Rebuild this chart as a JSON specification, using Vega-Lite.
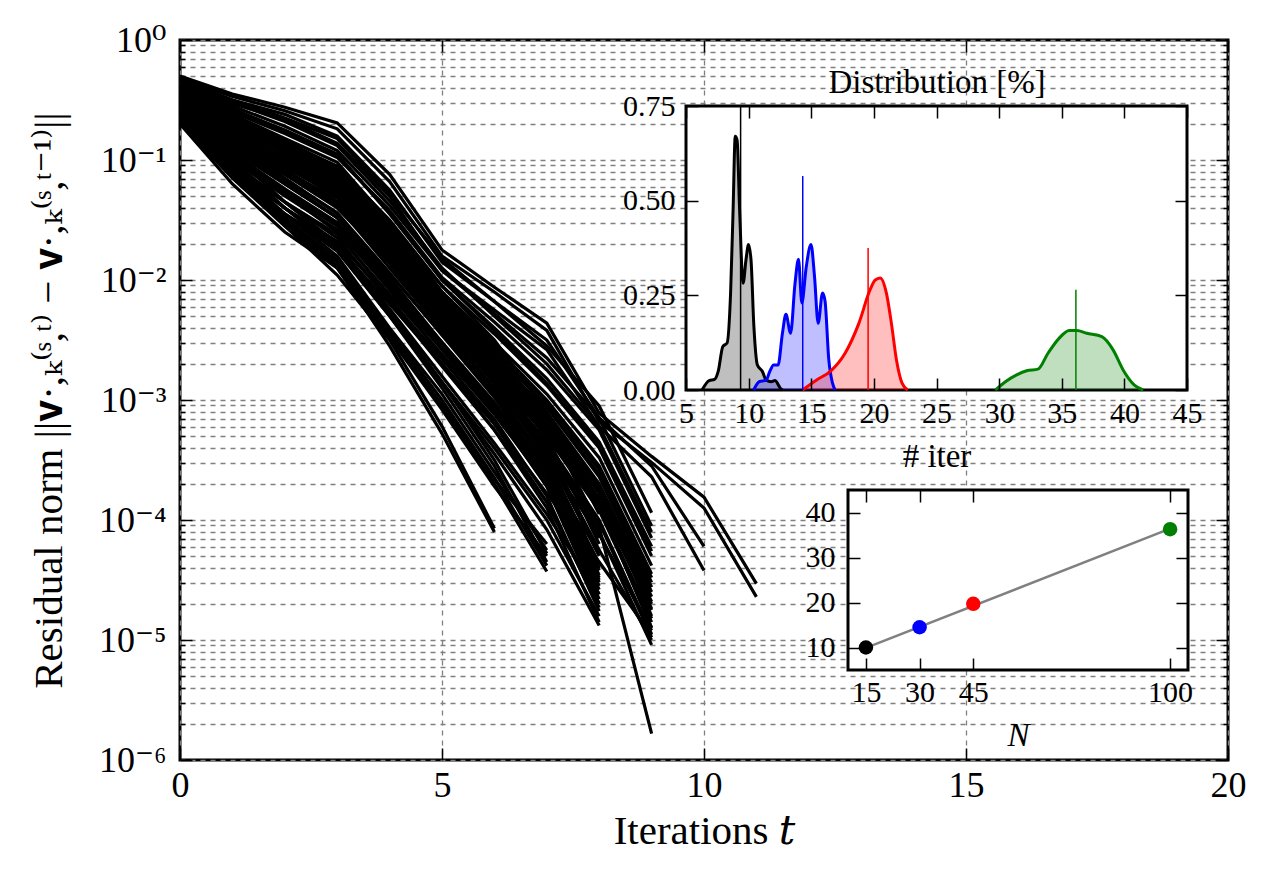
{
"$schema": "https://vega.github.io/schema/vega-lite/v6.json",
"width": 1048, "height": 720,
"autosize": {"type": "none"},
"padding": {"left": 180, "top": 40, "right": 40, "bottom": 116},
"background": "white",
"config": {
  "font": "Liberation Serif, DejaVu Serif, serif",
  "view": {"stroke": "black", "strokeWidth": 3},
  "axis": {"labelFont": "Liberation Serif, DejaVu Serif, serif", "titleFont": "Liberation Serif, DejaVu Serif, serif", "labelColor": "black", "titleColor": "black", "titleFontWeight": "normal", "tickColor": "black", "tickWidth": 1.5, "domain": false, "grid": false, "labelFlush": false, "labelOverlap": false, "labelBound": false}
},
"datasets": {
  "runs": [
    {"r":1,"t":0,"v":0.501},{"r":1,"t":1,"v":0.355},{"r":1,"t":2,"v":0.275},{"r":1,"t":3,"v":0.204},{"r":1,"t":4,"v":0.0759},{"r":1,"t":5,"v":0.0178},{"r":1,"t":6,"v":0.00871},{"r":1,"t":7,"v":0.00437},{"r":1,"t":8,"v":7.76e-4},{"r":1,"t":9,"v":3.39e-4},{"r":1,"t":10,"v":1.55e-4},{"r":1,"t":11,"v":2.95e-5},
    {"r":2,"t":0,"v":0.479},{"r":2,"t":1,"v":0.339},{"r":2,"t":2,"v":0.257},{"r":2,"t":3,"v":0.182},{"r":2,"t":4,"v":0.0661},{"r":2,"t":5,"v":0.0158},{"r":2,"t":6,"v":0.00794},{"r":2,"t":7,"v":0.0038},{"r":2,"t":8,"v":6.61e-4},{"r":2,"t":9,"v":3.02e-4},{"r":2,"t":10,"v":1.26e-4},{"r":2,"t":11,"v":2.29e-5},
    {"r":3,"t":0,"v":0.447},{"r":3,"t":1,"v":0.316},{"r":3,"t":2,"v":0.24},{"r":3,"t":3,"v":0.158},{"r":3,"t":4,"v":0.0562},{"r":3,"t":5,"v":0.0141},{"r":3,"t":6,"v":0.00661},{"r":3,"t":7,"v":0.00316},{"r":3,"t":8,"v":7.08e-4},{"r":3,"t":9,"v":2.82e-4},{"r":3,"t":10,"v":6.03e-5},
    {"r":4,"t":0,"v":0.417},{"r":4,"t":1,"v":0.295},{"r":4,"t":2,"v":0.219},{"r":4,"t":3,"v":0.138},{"r":4,"t":4,"v":0.0501},{"r":4,"t":5,"v":0.012},{"r":4,"t":6,"v":0.00562},{"r":4,"t":7,"v":0.00263},{"r":4,"t":8,"v":6.03e-4},{"r":4,"t":9,"v":2.29e-4},{"r":4,"t":10,"v":3.8e-5},
    {"r":5,"t":0,"v":0.2},{"r":5,"t":1,"v":0.0631},{"r":5,"t":2,"v":0.0251},{"r":5,"t":3,"v":0.0126},{"r":5,"t":4,"v":0.00282},{"r":5,"t":5,"v":5.25e-4},{"r":5,"t":6,"v":7.94e-5},
    {"r":6,"t":0,"v":0.219},{"r":6,"t":1,"v":0.0759},{"r":6,"t":2,"v":0.0282},{"r":6,"t":3,"v":0.011},{"r":6,"t":4,"v":0.00316},{"r":6,"t":5,"v":6.03e-4},{"r":6,"t":6,"v":8.51e-5},
    {"r":7,"t":0,"v":0.251},{"r":7,"t":1,"v":0.0891},{"r":7,"t":2,"v":0.0355},{"r":7,"t":3,"v":0.0158},{"r":7,"t":4,"v":0.00398},{"r":7,"t":5,"v":0.00112},{"r":7,"t":6,"v":2.51e-4},{"r":7,"t":7,"v":5.62e-5},
    {"r":8,"t":0,"v":0.24},{"r":8,"t":1,"v":0.0794},{"r":8,"t":2,"v":0.0316},{"r":8,"t":3,"v":0.0141},{"r":8,"t":4,"v":0.00355},{"r":8,"t":5,"v":8.91e-4},{"r":8,"t":6,"v":2e-4},{"r":8,"t":7,"v":3.72e-5},
    {"r":9,"t":0,"v":0.282},{"r":9,"t":1,"v":0.112},{"r":9,"t":2,"v":0.0447},{"r":9,"t":3,"v":0.02},{"r":9,"t":4,"v":0.00562},{"r":9,"t":5,"v":0.00141},{"r":9,"t":6,"v":3.16e-4},{"r":9,"t":7,"v":5.25e-5},
    {"r":10,"t":0,"v":0.263},{"r":10,"t":1,"v":0.1},{"r":10,"t":2,"v":0.0398},{"r":10,"t":3,"v":0.0178},{"r":10,"t":4,"v":0.00501},{"r":10,"t":5,"v":0.00126},{"r":10,"t":6,"v":2.82e-4},{"r":10,"t":7,"v":4.47e-5},
    {"r":11,"t":0,"v":0.398},{"r":11,"t":1,"v":0.24},{"r":11,"t":2,"v":0.141},{"r":11,"t":3,"v":0.0794},{"r":11,"t":4,"v":0.0282},{"r":11,"t":5,"v":0.00891},{"r":11,"t":6,"v":0.00316},{"r":11,"t":7,"v":7.94e-4},{"r":11,"t":8,"v":1.12e-4},
    {"r":12,"t":0,"v":0.355},{"r":12,"t":1,"v":0.2},{"r":12,"t":2,"v":0.112},{"r":12,"t":3,"v":0.0631},{"r":12,"t":4,"v":0.0224},{"r":12,"t":5,"v":0.00708},{"r":12,"t":6,"v":0.0024},{"r":12,"t":7,"v":6.31e-4},{"r":12,"t":8,"v":8.91e-5},
    {"r":13,"t":0,"v":0.316},{"r":13,"t":1,"v":0.166},{"r":13,"t":2,"v":0.0891},{"r":13,"t":3,"v":0.0501},{"r":13,"t":4,"v":0.0178},{"r":13,"t":5,"v":0.00562},{"r":13,"t":6,"v":0.00178},{"r":13,"t":7,"v":4.79e-4},{"r":13,"t":8,"v":7.08e-5},
    {"r":14,"t":0,"v":0.38},{"r":14,"t":1,"v":0.219},{"r":14,"t":2,"v":0.12},{"r":14,"t":3,"v":0.0661},{"r":14,"t":4,"v":0.02},{"r":14,"t":5,"v":0.00631},{"r":14,"t":6,"v":0.002},{"r":14,"t":7,"v":5.01e-4},{"r":14,"t":8,"v":6.31e-5},
    {"r":15,"t":0,"v":0.282},{"r":15,"t":1,"v":0.141},{"r":15,"t":2,"v":0.0759},{"r":15,"t":3,"v":0.0398},{"r":15,"t":4,"v":0.0141},{"r":15,"t":5,"v":0.00447},{"r":15,"t":6,"v":0.00141},{"r":15,"t":7,"v":3.8e-4},{"r":15,"t":8,"v":5.62e-5},
    {"r":16,"t":0,"v":0.331},{"r":16,"t":1,"v":0.178},{"r":16,"t":2,"v":0.1},{"r":16,"t":3,"v":0.0525},{"r":16,"t":4,"v":0.0158},{"r":16,"t":5,"v":0.00479},{"r":16,"t":6,"v":0.00151},{"r":16,"t":7,"v":3.55e-4},{"r":16,"t":8,"v":5.01e-5},
    {"r":17,"t":0,"v":0.251},{"r":17,"t":1,"v":0.12},{"r":17,"t":2,"v":0.0631},{"r":17,"t":3,"v":0.0331},{"r":17,"t":4,"v":0.0112},{"r":17,"t":5,"v":0.00355},{"r":17,"t":6,"v":0.00112},{"r":17,"t":7,"v":3.02e-4},{"r":17,"t":8,"v":4.37e-5},
    {"r":18,"t":0,"v":0.302},{"r":18,"t":1,"v":0.151},{"r":18,"t":2,"v":0.0794},{"r":18,"t":3,"v":0.0417},{"r":18,"t":4,"v":0.0126},{"r":18,"t":5,"v":0.0038},{"r":18,"t":6,"v":0.0012},{"r":18,"t":7,"v":2.82e-4},{"r":18,"t":8,"v":3.8e-5},
    {"r":19,"t":0,"v":0.24},{"r":19,"t":1,"v":0.105},{"r":19,"t":2,"v":0.0525},{"r":19,"t":3,"v":0.0282},{"r":19,"t":4,"v":0.00891},{"r":19,"t":5,"v":0.00282},{"r":19,"t":6,"v":8.91e-4},{"r":19,"t":7,"v":2.4e-4},{"r":19,"t":8,"v":3.31e-5},
    {"r":20,"t":0,"v":0.347},{"r":20,"t":1,"v":0.191},{"r":20,"t":2,"v":0.1},{"r":20,"t":3,"v":0.0501},{"r":20,"t":4,"v":0.0141},{"r":20,"t":5,"v":0.00398},{"r":20,"t":6,"v":0.00112},{"r":20,"t":7,"v":2.51e-4},{"r":20,"t":8,"v":2.82e-5},
    {"r":21,"t":0,"v":0.224},{"r":21,"t":1,"v":0.0891},{"r":21,"t":2,"v":0.0447},{"r":21,"t":3,"v":0.024},{"r":21,"t":4,"v":0.00759},{"r":21,"t":5,"v":0.0024},{"r":21,"t":6,"v":7.59e-4},{"r":21,"t":7,"v":2e-4},{"r":21,"t":8,"v":2.4e-5},
    {"r":22,"t":0,"v":0.269},{"r":22,"t":1,"v":0.126},{"r":22,"t":2,"v":0.0661},{"r":22,"t":3,"v":0.0331},{"r":22,"t":4,"v":0.01},{"r":22,"t":5,"v":0.00282},{"r":22,"t":6,"v":8.32e-4},{"r":22,"t":7,"v":1.91e-4},{"r":22,"t":8,"v":2e-5},
    {"r":23,"t":0,"v":0.209},{"r":23,"t":1,"v":0.0759},{"r":23,"t":2,"v":0.0355},{"r":23,"t":3,"v":0.0191},{"r":23,"t":4,"v":0.00631},{"r":23,"t":5,"v":0.002},{"r":23,"t":6,"v":6.31e-4},{"r":23,"t":7,"v":1.41e-4},{"r":23,"t":8,"v":1.86e-5},
    {"r":24,"t":0,"v":0.234},{"r":24,"t":1,"v":0.0955},{"r":24,"t":2,"v":0.0447},{"r":24,"t":3,"v":0.0224},{"r":24,"t":4,"v":0.00661},{"r":24,"t":5,"v":0.00191},{"r":24,"t":6,"v":5.62e-4},{"r":24,"t":7,"v":1.26e-4},{"r":24,"t":8,"v":1.41e-5},
    {"r":25,"t":0,"v":0.468},{"r":25,"t":1,"v":0.316},{"r":25,"t":2,"v":0.224},{"r":25,"t":3,"v":0.151},{"r":25,"t":4,"v":0.0525},{"r":25,"t":5,"v":0.0151},{"r":25,"t":6,"v":0.00661},{"r":25,"t":7,"v":0.00282},{"r":25,"t":8,"v":8.91e-4},{"r":25,"t":9,"v":1.15e-4},
    {"r":26,"t":0,"v":0.437},{"r":26,"t":1,"v":0.282},{"r":26,"t":2,"v":0.191},{"r":26,"t":3,"v":0.12},{"r":26,"t":4,"v":0.0417},{"r":26,"t":5,"v":0.012},{"r":26,"t":6,"v":0.00525},{"r":26,"t":7,"v":0.00224},{"r":26,"t":8,"v":7.08e-4},{"r":26,"t":9,"v":8.91e-5},
    {"r":27,"t":0,"v":0.398},{"r":27,"t":1,"v":0.251},{"r":27,"t":2,"v":0.166},{"r":27,"t":3,"v":0.105},{"r":27,"t":4,"v":0.038},{"r":27,"t":5,"v":0.0105},{"r":27,"t":6,"v":0.00447},{"r":27,"t":7,"v":0.00178},{"r":27,"t":8,"v":5.62e-4},{"r":27,"t":9,"v":7.08e-5},
    {"r":28,"t":0,"v":0.417},{"r":28,"t":1,"v":0.263},{"r":28,"t":2,"v":0.178},{"r":28,"t":3,"v":0.112},{"r":28,"t":4,"v":0.0355},{"r":28,"t":5,"v":0.01},{"r":28,"t":6,"v":0.00398},{"r":28,"t":7,"v":0.00151},{"r":28,"t":8,"v":4.47e-4},{"r":28,"t":9,"v":6.03e-5},
    {"r":29,"t":0,"v":0.363},{"r":29,"t":1,"v":0.224},{"r":29,"t":2,"v":0.141},{"r":29,"t":3,"v":0.0891},{"r":29,"t":4,"v":0.0316},{"r":29,"t":5,"v":0.00891},{"r":29,"t":6,"v":0.00355},{"r":29,"t":7,"v":0.00132},{"r":29,"t":8,"v":3.98e-4},{"r":29,"t":9,"v":5.01e-5},
    {"r":30,"t":0,"v":0.38},{"r":30,"t":1,"v":0.24},{"r":30,"t":2,"v":0.151},{"r":30,"t":3,"v":0.0955},{"r":30,"t":4,"v":0.0302},{"r":30,"t":5,"v":0.00794},{"r":30,"t":6,"v":0.00302},{"r":30,"t":7,"v":0.00112},{"r":30,"t":8,"v":3.31e-4},{"r":30,"t":9,"v":4.17e-5},
    {"r":31,"t":0,"v":0.339},{"r":31,"t":1,"v":0.2},{"r":31,"t":2,"v":0.126},{"r":31,"t":3,"v":0.0794},{"r":31,"t":4,"v":0.0263},{"r":31,"t":5,"v":0.00759},{"r":31,"t":6,"v":0.00282},{"r":31,"t":7,"v":0.001},{"r":31,"t":8,"v":2.82e-4},{"r":31,"t":9,"v":3.55e-5},
    {"r":32,"t":0,"v":0.316},{"r":32,"t":1,"v":0.182},{"r":32,"t":2,"v":0.112},{"r":32,"t":3,"v":0.0708},{"r":32,"t":4,"v":0.024},{"r":32,"t":5,"v":0.00661},{"r":32,"t":6,"v":0.00251},{"r":32,"t":7,"v":8.91e-4},{"r":32,"t":8,"v":2.4e-4},{"r":32,"t":9,"v":3.02e-5},
    {"r":33,"t":0,"v":0.355},{"r":33,"t":1,"v":0.209},{"r":33,"t":2,"v":0.126},{"r":33,"t":3,"v":0.0759},{"r":33,"t":4,"v":0.0251},{"r":33,"t":5,"v":0.00708},{"r":33,"t":6,"v":0.0024},{"r":33,"t":7,"v":7.94e-4},{"r":33,"t":8,"v":2e-4},{"r":33,"t":9,"v":2.51e-5},
    {"r":34,"t":0,"v":0.295},{"r":34,"t":1,"v":0.166},{"r":34,"t":2,"v":0.1},{"r":34,"t":3,"v":0.0603},{"r":34,"t":4,"v":0.02},{"r":34,"t":5,"v":0.00562},{"r":34,"t":6,"v":0.002},{"r":34,"t":7,"v":6.61e-4},{"r":34,"t":8,"v":1.66e-4},{"r":34,"t":9,"v":2.09e-5},
    {"r":35,"t":0,"v":0.324},{"r":35,"t":1,"v":0.191},{"r":35,"t":2,"v":0.112},{"r":35,"t":3,"v":0.0661},{"r":35,"t":4,"v":0.0209},{"r":35,"t":5,"v":0.00603},{"r":35,"t":6,"v":0.00191},{"r":35,"t":7,"v":6.03e-4},{"r":35,"t":8,"v":1.41e-4},{"r":35,"t":9,"v":1.78e-5},
    {"r":36,"t":0,"v":0.275},{"r":36,"t":1,"v":0.151},{"r":36,"t":2,"v":0.0891},{"r":36,"t":3,"v":0.0525},{"r":36,"t":4,"v":0.0166},{"r":36,"t":5,"v":0.00479},{"r":36,"t":6,"v":0.00158},{"r":36,"t":7,"v":5.01e-4},{"r":36,"t":8,"v":1.2e-4},{"r":36,"t":9,"v":1.41e-5},
    {"r":37,"t":0,"v":0.302},{"r":37,"t":1,"v":0.166},{"r":37,"t":2,"v":0.0955},{"r":37,"t":3,"v":0.0562},{"r":37,"t":4,"v":0.0178},{"r":37,"t":5,"v":0.00501},{"r":37,"t":6,"v":0.00151},{"r":37,"t":7,"v":4.47e-4},{"r":37,"t":8,"v":1e-4},{"r":37,"t":9,"v":1.12e-5},
    {"r":38,"t":0,"v":0.263},{"r":38,"t":1,"v":0.132},{"r":38,"t":2,"v":0.0759},{"r":38,"t":3,"v":0.0447},{"r":38,"t":4,"v":0.0141},{"r":38,"t":5,"v":0.00398},{"r":38,"t":6,"v":0.00126},{"r":38,"t":7,"v":3.8e-4},{"r":38,"t":8,"v":7.94e-5},{"r":38,"t":9,"v":9.12e-6},
    {"r":39,"t":0,"v":0.288},{"r":39,"t":1,"v":0.141},{"r":39,"t":2,"v":0.0794},{"r":39,"t":3,"v":0.0479},{"r":39,"t":4,"v":0.0151},{"r":39,"t":5,"v":0.00447},{"r":39,"t":6,"v":0.00141},{"r":39,"t":7,"v":3.98e-4},{"r":39,"t":8,"v":8.71e-5},{"r":39,"t":9,"v":1.66e-6},
    {"r":40,"t":0,"v":0.372},{"r":40,"t":1,"v":0.219},{"r":40,"t":2,"v":0.132},{"r":40,"t":3,"v":0.0794},{"r":40,"t":4,"v":0.0251},{"r":40,"t":5,"v":0.00661},{"r":40,"t":6,"v":0.00219},{"r":40,"t":7,"v":7.08e-4},{"r":40,"t":8,"v":1.78e-4},{"r":40,"t":9,"v":1.58e-5},
    {"r":41,"t":0,"v":0.309},{"r":41,"t":1,"v":0.174},{"r":41,"t":2,"v":0.105},{"r":41,"t":3,"v":0.0631},{"r":41,"t":4,"v":0.0191},{"r":41,"t":5,"v":0.00525},{"r":41,"t":6,"v":0.00166},{"r":41,"t":7,"v":5.25e-4},{"r":41,"t":8,"v":1.32e-4},{"r":41,"t":9,"v":1.26e-5},
    {"r":42,"t":0,"v":0.339},{"r":42,"t":1,"v":0.191},{"r":42,"t":2,"v":0.115},{"r":42,"t":3,"v":0.0692},{"r":42,"t":4,"v":0.0224},{"r":42,"t":5,"v":0.00631},{"r":42,"t":6,"v":0.00209},{"r":42,"t":7,"v":6.31e-4},{"r":42,"t":8,"v":1.51e-4},{"r":42,"t":9,"v":2e-5},
    {"r":43,"t":0,"v":0.288},{"r":43,"t":1,"v":0.151},{"r":43,"t":2,"v":0.0871},{"r":43,"t":3,"v":0.0501},{"r":43,"t":4,"v":0.0158},{"r":43,"t":5,"v":0.00447},{"r":43,"t":6,"v":0.00138},{"r":43,"t":7,"v":4.17e-4},{"r":43,"t":8,"v":9.55e-5},{"r":43,"t":9,"v":1.05e-5},
    {"r":44,"t":0,"v":0.363},{"r":44,"t":1,"v":0.2},{"r":44,"t":2,"v":0.11},{"r":44,"t":3,"v":0.0575},{"r":44,"t":4,"v":0.0174},{"r":44,"t":5,"v":0.00525},{"r":44,"t":6,"v":0.00166},{"r":44,"t":7,"v":4.17e-4},{"r":44,"t":8,"v":5.25e-5},
    {"r":45,"t":0,"v":0.257},{"r":45,"t":1,"v":0.115},{"r":45,"t":2,"v":0.0575},{"r":45,"t":3,"v":0.0302},{"r":45,"t":4,"v":0.00955},{"r":45,"t":5,"v":0.00302},{"r":45,"t":6,"v":9.55e-4},{"r":45,"t":7,"v":2.51e-4},{"r":45,"t":8,"v":3.16e-5},
    {"r":46,"t":0,"v":0.427},{"r":46,"t":1,"v":0.269},{"r":46,"t":2,"v":0.174},{"r":46,"t":3,"v":0.11},{"r":46,"t":4,"v":0.0363},{"r":46,"t":5,"v":0.01},{"r":46,"t":6,"v":0.0038},{"r":46,"t":7,"v":0.00138},{"r":46,"t":8,"v":4.17e-4},{"r":46,"t":9,"v":5.5e-5},
    {"r":47,"t":0,"v":0.389},{"r":47,"t":1,"v":0.234},{"r":47,"t":2,"v":0.145},{"r":47,"t":3,"v":0.0871},{"r":47,"t":4,"v":0.0282},{"r":47,"t":5,"v":0.00794},{"r":47,"t":6,"v":0.00282},{"r":47,"t":7,"v":9.55e-4},{"r":47,"t":8,"v":2.63e-4},{"r":47,"t":9,"v":3.31e-5},
    {"r":48,"t":0,"v":0.331},{"r":48,"t":1,"v":0.195},{"r":48,"t":2,"v":0.117},{"r":48,"t":3,"v":0.0708},{"r":48,"t":4,"v":0.0229},{"r":48,"t":5,"v":0.00631},{"r":48,"t":6,"v":0.00219},{"r":48,"t":7,"v":7.24e-4},{"r":48,"t":8,"v":1.82e-4},{"r":48,"t":9,"v":2.29e-5},
    {"r":49,"t":0,"v":0.282},{"r":49,"t":1,"v":0.158},{"r":49,"t":2,"v":0.0933},{"r":49,"t":3,"v":0.055},{"r":49,"t":4,"v":0.0174},{"r":49,"t":5,"v":0.00501},{"r":49,"t":6,"v":0.00166},{"r":49,"t":7,"v":5.25e-4},{"r":49,"t":8,"v":1.26e-4},{"r":49,"t":9,"v":1.51e-5},
    {"r":50,"t":0,"v":0.316},{"r":50,"t":1,"v":0.174},{"r":50,"t":2,"v":0.0955},{"r":50,"t":3,"v":0.0501},{"r":50,"t":4,"v":0.0151},{"r":50,"t":5,"v":0.00457},{"r":50,"t":6,"v":0.00138},{"r":50,"t":7,"v":3.31e-4},{"r":50,"t":8,"v":3.98e-5},
    {"r":51,"t":0,"v":0.275},{"r":51,"t":1,"v":0.132},{"r":51,"t":2,"v":0.0692},{"r":51,"t":3,"v":0.0363},{"r":51,"t":4,"v":0.0115},{"r":51,"t":5,"v":0.00347},{"r":51,"t":6,"v":0.00105},{"r":51,"t":7,"v":2.63e-4},{"r":51,"t":8,"v":3.02e-5},
    {"r":52,"t":0,"v":0.229},{"r":52,"t":1,"v":0.1},{"r":52,"t":2,"v":0.0501},{"r":52,"t":3,"v":0.0263},{"r":52,"t":4,"v":0.00832},{"r":52,"t":5,"v":0.00263},{"r":52,"t":6,"v":7.94e-4},{"r":52,"t":7,"v":1.91e-4},{"r":52,"t":8,"v":2.19e-5},
    {"r":53,"t":0,"v":0.295},{"r":53,"t":1,"v":0.145},{"r":53,"t":2,"v":0.0794},{"r":53,"t":3,"v":0.0437},{"r":53,"t":4,"v":0.0138},{"r":53,"t":5,"v":0.00417},{"r":53,"t":6,"v":0.00126},{"r":53,"t":7,"v":3.02e-4},{"r":53,"t":8,"v":3.47e-5},
    {"r":54,"t":0,"v":0.457},{"r":54,"t":1,"v":0.302},{"r":54,"t":2,"v":0.209},{"r":54,"t":3,"v":0.132},{"r":54,"t":4,"v":0.0457},{"r":54,"t":5,"v":0.0126},{"r":54,"t":6,"v":0.00501},{"r":54,"t":7,"v":0.002},{"r":54,"t":8,"v":6.03e-4},{"r":54,"t":9,"v":7.94e-5},
    {"r":55,"t":0,"v":0.363},{"r":55,"t":1,"v":0.219},{"r":55,"t":2,"v":0.135},{"r":55,"t":3,"v":0.0832},{"r":55,"t":4,"v":0.0275},{"r":55,"t":5,"v":0.00741},{"r":55,"t":6,"v":0.00263},{"r":55,"t":7,"v":8.71e-4},{"r":55,"t":8,"v":2.29e-4},{"r":55,"t":9,"v":2.75e-5},
    {"r":56,"t":0,"v":0.245},{"r":56,"t":1,"v":0.11},{"r":56,"t":2,"v":0.055},{"r":56,"t":3,"v":0.0288},{"r":56,"t":4,"v":0.00912},{"r":56,"t":5,"v":0.00282},{"r":56,"t":6,"v":8.71e-4},{"r":56,"t":7,"v":2.19e-4},{"r":56,"t":8,"v":2.63e-5},
    {"r":57,"t":0,"v":0.302},{"r":57,"t":1,"v":0.17},{"r":57,"t":2,"v":0.1},{"r":57,"t":3,"v":0.0589},{"r":57,"t":4,"v":0.0191},{"r":57,"t":5,"v":0.00537},{"r":57,"t":6,"v":0.00178},{"r":57,"t":7,"v":5.62e-4},{"r":57,"t":8,"v":1.35e-4},{"r":57,"t":9,"v":1.26e-5},
    {"r":58,"t":0,"v":0.214},{"r":58,"t":1,"v":0.0832},{"r":58,"t":2,"v":0.0398},{"r":58,"t":3,"v":0.0209},{"r":58,"t":4,"v":0.00692},{"r":58,"t":5,"v":0.00219},{"r":58,"t":6,"v":6.92e-4},{"r":58,"t":7,"v":1.58e-4},{"r":58,"t":8,"v":1.74e-5},
    {"r":59,"t":0,"v":0.234},{"r":59,"t":1,"v":0.0832},{"r":59,"t":2,"v":0.0331},{"r":59,"t":3,"v":0.0148},{"r":59,"t":4,"v":0.0038},{"r":59,"t":5,"v":0.001},{"r":59,"t":6,"v":2.24e-4},{"r":59,"t":7,"v":4.17e-5},
    {"r":60,"t":0,"v":0.347},{"r":60,"t":1,"v":0.204},{"r":60,"t":2,"v":0.123},{"r":60,"t":3,"v":0.0741},{"r":60,"t":4,"v":0.024},{"r":60,"t":5,"v":0.00661},{"r":60,"t":6,"v":0.00229},{"r":60,"t":7,"v":7.59e-4},{"r":60,"t":8,"v":1.91e-4},{"r":60,"t":9,"v":1.82e-5},
    {"r":61,"t":0,"v":0.263},{"r":61,"t":1,"v":0.112},{"r":61,"t":2,"v":0.0525},{"r":61,"t":3,"v":0.0251},{"r":61,"t":4,"v":0.00708},{"r":61,"t":5,"v":0.002},{"r":61,"t":6,"v":5.62e-4},{"r":61,"t":7,"v":1.41e-4},{"r":61,"t":8,"v":2e-5},
    {"r":62,"t":0,"v":0.219},{"r":62,"t":1,"v":0.0794},{"r":62,"t":2,"v":0.0355},{"r":62,"t":3,"v":0.0174},{"r":62,"t":4,"v":0.00501},{"r":62,"t":5,"v":0.00141},{"r":62,"t":6,"v":3.98e-4},{"r":62,"t":7,"v":1e-4},{"r":62,"t":8,"v":1.58e-5},
    {"r":63,"t":0,"v":0.24},{"r":63,"t":1,"v":0.0912},{"r":63,"t":2,"v":0.0398},{"r":63,"t":3,"v":0.0191},{"r":63,"t":4,"v":0.00525},{"r":63,"t":5,"v":0.00138},{"r":63,"t":6,"v":3.55e-4},{"r":63,"t":7,"v":8.32e-5},{"r":63,"t":8,"v":1.32e-5},
    {"r":64,"t":0,"v":0.275},{"r":64,"t":1,"v":0.126},{"r":64,"t":2,"v":0.0631},{"r":64,"t":3,"v":0.0331},{"r":64,"t":4,"v":0.01},{"r":64,"t":5,"v":0.00282},{"r":64,"t":6,"v":7.94e-4},{"r":64,"t":7,"v":2.19e-4},{"r":64,"t":8,"v":5.62e-5},{"r":64,"t":9,"v":1e-5},
    {"r":65,"t":0,"v":0.251},{"r":65,"t":1,"v":0.11},{"r":65,"t":2,"v":0.055},{"r":65,"t":3,"v":0.0282},{"r":65,"t":4,"v":0.00832},{"r":65,"t":5,"v":0.00229},{"r":65,"t":6,"v":6.31e-4},{"r":65,"t":7,"v":1.66e-4},{"r":65,"t":8,"v":4.47e-5},{"r":65,"t":9,"v":1.1e-5},
    {"r":66,"t":0,"v":0.204},{"r":66,"t":1,"v":0.0708},{"r":66,"t":2,"v":0.0282},{"r":66,"t":3,"v":0.0126},{"r":66,"t":4,"v":0.00331},{"r":66,"t":5,"v":8.32e-4},{"r":66,"t":6,"v":1.91e-4},{"r":66,"t":7,"v":5.01e-5},
    {"r":67,"t":0,"v":0.288},{"r":67,"t":1,"v":0.138},{"r":67,"t":2,"v":0.0708},{"r":67,"t":3,"v":0.0355},{"r":67,"t":4,"v":0.0105},{"r":67,"t":5,"v":0.00302},{"r":67,"t":6,"v":8.91e-4},{"r":67,"t":7,"v":2.51e-4},{"r":67,"t":8,"v":3.98e-5},
    {"r":68,"t":0,"v":0.316},{"r":68,"t":1,"v":0.158},{"r":68,"t":2,"v":0.0832},{"r":68,"t":3,"v":0.0447},{"r":68,"t":4,"v":0.0138},{"r":68,"t":5,"v":0.0038},{"r":68,"t":6,"v":0.00112},{"r":68,"t":7,"v":3.16e-4},{"r":68,"t":8,"v":7.59e-5},{"r":68,"t":9,"v":1.2e-5},
    {"r":69,"t":0,"v":0.229},{"r":69,"t":1,"v":0.0871},{"r":69,"t":2,"v":0.0398},{"r":69,"t":3,"v":0.02},{"r":69,"t":4,"v":0.00575},{"r":69,"t":5,"v":0.00158},{"r":69,"t":6,"v":4.37e-4},{"r":69,"t":7,"v":1.12e-4},{"r":69,"t":8,"v":2.4e-5},
    {"r":70,"t":0,"v":0.224},{"r":70,"t":1,"v":0.0759},{"r":70,"t":2,"v":0.0302},{"r":70,"t":3,"v":0.0132},{"r":70,"t":4,"v":0.00347},{"r":70,"t":5,"v":9.12e-4},{"r":70,"t":6,"v":2.19e-4},{"r":70,"t":7,"v":6.31e-5}
  ],
  "kde": [
    {"g":"15","it":6.28,"d":0},{"g":"15","it":6.85,"d":0.025},{"g":"15","it":7.28,"d":0.028},{"g":"15","it":7.57,"d":0.049},{"g":"15","it":7.94,"d":0.115},{"g":"15","it":8.28,"d":0.124},{"g":"15","it":8.56,"d":0.256},{"g":"15","it":8.76,"d":0.476},{"g":"15","it":8.93,"d":0.67},{"g":"15","it":9.08,"d":0.66},{"g":"15","it":9.28,"d":0.476},{"g":"15","it":9.56,"d":0.282},{"g":"15","it":9.79,"d":0.344},{"g":"15","it":9.99,"d":0.384},{"g":"15","it":10.19,"d":0.344},{"g":"15","it":10.42,"d":0.168},{"g":"15","it":10.7,"d":0.066},{"g":"15","it":11.1,"d":0.049},{"g":"15","it":11.4,"d":0.026},{"g":"15","it":11.8,"d":0.022},{"g":"15","it":12.1,"d":0.025},{"g":"15","it":12.55,"d":0.004},{"g":"15","it":12.7,"d":0},
    {"g":"30","it":10.4,"d":0},{"g":"30","it":10.85,"d":0.022},{"g":"30","it":11.4,"d":0.026},{"g":"30","it":11.7,"d":0.05},{"g":"30","it":12.0,"d":0.066},{"g":"30","it":12.35,"d":0.066},{"g":"30","it":12.7,"d":0.15},{"g":"30","it":12.98,"d":0.2},{"g":"30","it":13.35,"d":0.15},{"g":"30","it":13.7,"d":0.28},{"g":"30","it":13.98,"d":0.345},{"g":"30","it":14.25,"d":0.23},{"g":"30","it":14.6,"d":0.325},{"g":"30","it":14.98,"d":0.384},{"g":"30","it":15.26,"d":0.3},{"g":"30","it":15.55,"d":0.176},{"g":"30","it":15.9,"d":0.256},{"g":"30","it":16.1,"d":0.235},{"g":"30","it":16.4,"d":0.08},{"g":"30","it":16.7,"d":0.018},{"g":"30","it":16.9,"d":0},
    {"g":"45","it":14.3,"d":0},{"g":"45","it":15.4,"d":0.026},{"g":"45","it":16.55,"d":0.05},{"g":"45","it":17.7,"d":0.097},{"g":"45","it":18.8,"d":0.176},{"g":"45","it":19.7,"d":0.265},{"g":"45","it":20.1,"d":0.29},{"g":"45","it":20.5,"d":0.296},{"g":"45","it":21.0,"d":0.256},{"g":"45","it":21.4,"d":0.176},{"g":"45","it":21.8,"d":0.08},{"g":"45","it":22.25,"d":0.018},{"g":"45","it":22.7,"d":0},
    {"g":"100","it":29.7,"d":0},{"g":"100","it":30.5,"d":0.022},{"g":"100","it":31.4,"d":0.04},{"g":"100","it":32.2,"d":0.051},{"g":"100","it":33.1,"d":0.055},{"g":"100","it":33.9,"d":0.097},{"g":"100","it":34.8,"d":0.137},{"g":"100","it":35.6,"d":0.157},{"g":"100","it":36.2,"d":0.157},{"g":"100","it":37.0,"d":0.15},{"g":"100","it":38.2,"d":0.141},{"g":"100","it":39.1,"d":0.106},{"g":"100","it":39.9,"d":0.053},{"g":"100","it":40.8,"d":0.013},{"g":"100","it":41.5,"d":0}
  ],
  "means": [
    {"g":"15","it":9.36,"h":0.75},{"g":"30","it":14.32,"h":0.565},{"g":"45","it":19.54,"h":0.375},{"g":"100","it":36.13,"h":0.265}
  ],
  "nit": [
    {"g":"15","N":15,"it":10.0},{"g":"30","N":30,"it":14.5},{"g":"45","N":45,"it":19.7},{"g":"100","N":100,"it":36.3}
  ],
  "fit": [
    {"N":15,"fit":9.9},{"N":100,"fit":36.4}
  ]
},
"layer": [
  {
    "layer": [
      {
        "data": {"name": "runs"},
        "mark": {"type": "line", "color": "black", "strokeWidth": 3.2},
        "encoding": {
          "x": {"field": "t", "type": "quantitative", "scale": {"domain": [0, 20], "nice": false},
            "axis": {"orient": "bottom", "values": [0, 5, 10, 15, 20], "format": "d", "tickSize": -12, "labelPadding": 20, "labelFontSize": 36,
              "grid": true, "gridColor": "#808080", "gridDash": [5, 5], "gridWidth": 1.3,
              "title": "Iterations 𝑡", "titleFontSize": 41, "titlePadding": 8}},
          "y": {"field": "v", "type": "quantitative", "scale": {"type": "log", "domain": [1e-6, 1], "nice": false},
            "axis": {"orient": "left",
              "values": [1e-6,1e-5,1e-4,0.001,0.01,0.1,1],
              "tickSize": -12,
              "labelExpr": "['10⁻⁶','10⁻⁵','10⁻⁴','10⁻³','10⁻²','10⁻¹','10⁰'][round(log(datum.value)/LN10) + 6]",
              "labelPadding": 26, "labelFontSize": 36,
              "grid": true, "gridColor": "#808080", "gridDash": [5, 5], "gridWidth": 1.3,
              "title": "Residual norm ||𝐯·,ₖ⁽ˢ,ᵗ⁾ − 𝐯·,ₖ⁽ˢ,ᵗ⁻¹⁾||", "titleFontSize": 41, "titlePadding": 28}},
          "detail": {"field": "r", "type": "nominal"}
        }
      },
      {
        "data": {"name": "runs"},
        "mark": {"type": "line", "strokeOpacity": 0},
        "encoding": {
          "x": {"field": "t", "type": "quantitative",
            "axis": {"orient": "top", "values": [0, 5, 10, 15, 20], "tickSize": -12, "labels": false, "title": null}},
          "y": {"field": "v", "type": "quantitative",
            "axis": {"orient": "left",
              "values": [2e-6,3e-6,4e-6,5e-6,6e-6,7e-6,8e-6,9e-6,2e-5,3e-5,4e-5,5e-5,6e-5,7e-5,8e-5,9e-5,2e-4,3e-4,4e-4,5e-4,6e-4,7e-4,8e-4,9e-4,0.002,0.003,0.004,0.005,0.006,0.007,0.008,0.009,0.02,0.03,0.04,0.05,0.06,0.07,0.08,0.09,0.2,0.3,0.4,0.5,0.6,0.7,0.8,0.9],
              "tickSize": -5, "labels": false, "title": null,
              "grid": true, "gridColor": "#808080", "gridDash": [5, 5], "gridWidth": 1.3}},
          "detail": {"field": "r", "type": "nominal"}
        }
      },
      {
        "data": {"name": "runs"},
        "mark": {"type": "line", "strokeOpacity": 0},
        "encoding": {
          "x": {"field": "t", "type": "quantitative", "axis": null},
          "y": {"field": "v", "type": "quantitative",
            "axis": {"orient": "right", "values": [1e-6,1e-5,1e-4,0.001,0.01,0.1,1], "tickSize": -12, "labels": false, "title": null}},
          "detail": {"field": "r", "type": "nominal"}
        }
      },
      {
        "data": {"name": "runs"},
        "mark": {"type": "line", "strokeOpacity": 0},
        "encoding": {
          "x": {"field": "t", "type": "quantitative", "axis": null},
          "y": {"field": "v", "type": "quantitative",
            "axis": {"orient": "right",
              "values": [2e-6,3e-6,4e-6,5e-6,6e-6,7e-6,8e-6,9e-6,2e-5,3e-5,4e-5,5e-5,6e-5,7e-5,8e-5,9e-5,2e-4,3e-4,4e-4,5e-4,6e-4,7e-4,8e-4,9e-4,0.002,0.003,0.004,0.005,0.006,0.007,0.008,0.009,0.02,0.03,0.04,0.05,0.06,0.07,0.08,0.09,0.2,0.3,0.4,0.5,0.6,0.7,0.8,0.9],
              "tickSize": -5, "labels": false, "title": null}},
          "detail": {"field": "r", "type": "nominal"}
        }
      }
    ],
    "resolve": {"axis": {"x": "independent", "y": "independent"}}
  },
  {
    "layer": [
      {
        "data": {"values": [{}]},
        "mark": {"type": "rect", "fill": "white", "stroke": "black", "strokeWidth": 3},
        "encoding": {
          "x": {"datum": 5, "type": "quantitative", "axis": null},
          "x2": {"datum": 45},
          "y": {"datum": 0, "type": "quantitative", "axis": null},
          "y2": {"datum": 0.75}
        }
      },
      {
        "data": {"name": "kde"},
        "mark": {"type": "area", "fillOpacity": 0.25, "interpolate": "monotone"},
        "encoding": {
          "x": {"field": "it", "type": "quantitative", "scale": {"domain": [5, 45], "range": [506, 1007], "nice": false, "zero": false},
            "axis": {"orient": "bottom", "offset": -370, "values": [5,10,15,20,25,30,35,40,45], "tickSize": -12, "labelPadding": 20, "labelFontSize": 30, "zindex": 1,
              "title": "# iter", "titleFontSize": 33, "titlePadding": 12}},
          "y": {"field": "d", "type": "quantitative", "stack": null, "scale": {"domain": [0, 0.75], "range": [350, 66], "nice": false},
            "axis": {"orient": "left", "offset": -506, "values": [0, 0.25, 0.5, 0.75], "format": ".2f", "tickSize": -12, "labelPadding": 23, "labelFontSize": 30, "title": null, "zindex": 1}},
          "color": {"field": "g", "type": "nominal", "scale": {"domain": ["15", "30", "45", "100"], "range": ["black", "blue", "red", "green"]}, "legend": null}
        }
      },
      {
        "data": {"name": "kde"},
        "mark": {"type": "line", "strokeWidth": 3, "interpolate": "monotone"},
        "encoding": {
          "x": {"field": "it", "type": "quantitative",
            "axis": {"orient": "top", "offset": -66, "values": [5,10,15,20,25,30,35,40,45], "tickSize": -12, "labels": false, "zindex": 1,
              "title": "Distribution [%]", "titleFontSize": 33, "titlePadding": 6}},
          "y": {"field": "d", "type": "quantitative", "axis": null},
          "color": {"field": "g", "type": "nominal", "legend": null}
        }
      },
      {
        "data": {"name": "means"},
        "mark": {"type": "rule", "strokeWidth": 1.5},
        "encoding": {
          "x": {"field": "it", "type": "quantitative", "axis": null},
          "y": {"field": "h", "type": "quantitative",
            "axis": {"orient": "right", "offset": -41, "values": [0, 0.25, 0.5, 0.75], "tickSize": -12, "labels": false, "title": null, "zindex": 1}},
          "y2": {"datum": 0},
          "color": {"field": "g", "type": "nominal", "legend": null}
        }
      }
    ],
    "resolve": {"axis": {"x": "independent", "y": "independent"}}
  },
  {
    "layer": [
      {
        "data": {"values": [{}]},
        "mark": {"type": "rect", "fill": "white", "stroke": "black", "strokeWidth": 3},
        "encoding": {
          "x": {"datum": 10, "type": "quantitative", "axis": null},
          "x2": {"datum": 105},
          "y": {"datum": 5, "type": "quantitative", "axis": null},
          "y2": {"datum": 45}
        }
      },
      {
        "data": {"name": "fit"},
        "mark": {"type": "line", "color": "#808080", "strokeWidth": 2.5},
        "encoding": {
          "x": {"field": "N", "type": "quantitative", "scale": {"domain": [10, 105], "range": [668, 1008], "nice": false, "zero": false},
            "axis": {"orient": "bottom", "offset": -90, "values": [15, 30, 45, 100], "tickSize": -12, "labelPadding": 19, "labelFontSize": 30, "zindex": 1,
              "title": "N", "titleFontStyle": "italic", "titleFontSize": 33, "titlePadding": 12}},
          "y": {"field": "fit", "type": "quantitative", "scale": {"domain": [5, 45], "range": [630, 450], "nice": false, "zero": false},
            "axis": {"orient": "left", "offset": -668, "values": [10, 20, 30, 40], "tickSize": -12, "labelPadding": 25, "labelFontSize": 30, "title": null, "zindex": 1}}
        }
      },
      {
        "data": {"name": "nit"},
        "mark": {"type": "circle", "size": 210, "opacity": 1},
        "encoding": {
          "x": {"field": "N", "type": "quantitative",
            "axis": {"orient": "top", "offset": -450, "values": [15, 30, 45, 100], "tickSize": -12, "labels": false, "title": null, "zindex": 1}},
          "y": {"field": "it", "type": "quantitative",
            "axis": {"orient": "right", "offset": -40, "values": [10, 20, 30, 40], "tickSize": -12, "labels": false, "title": null, "zindex": 1}},
          "color": {"field": "g", "type": "nominal", "legend": null}
        }
      }
    ],
    "resolve": {"axis": {"x": "independent", "y": "independent"}}
  }
],
"resolve": {"scale": {"x": "independent", "y": "independent"}}
}
